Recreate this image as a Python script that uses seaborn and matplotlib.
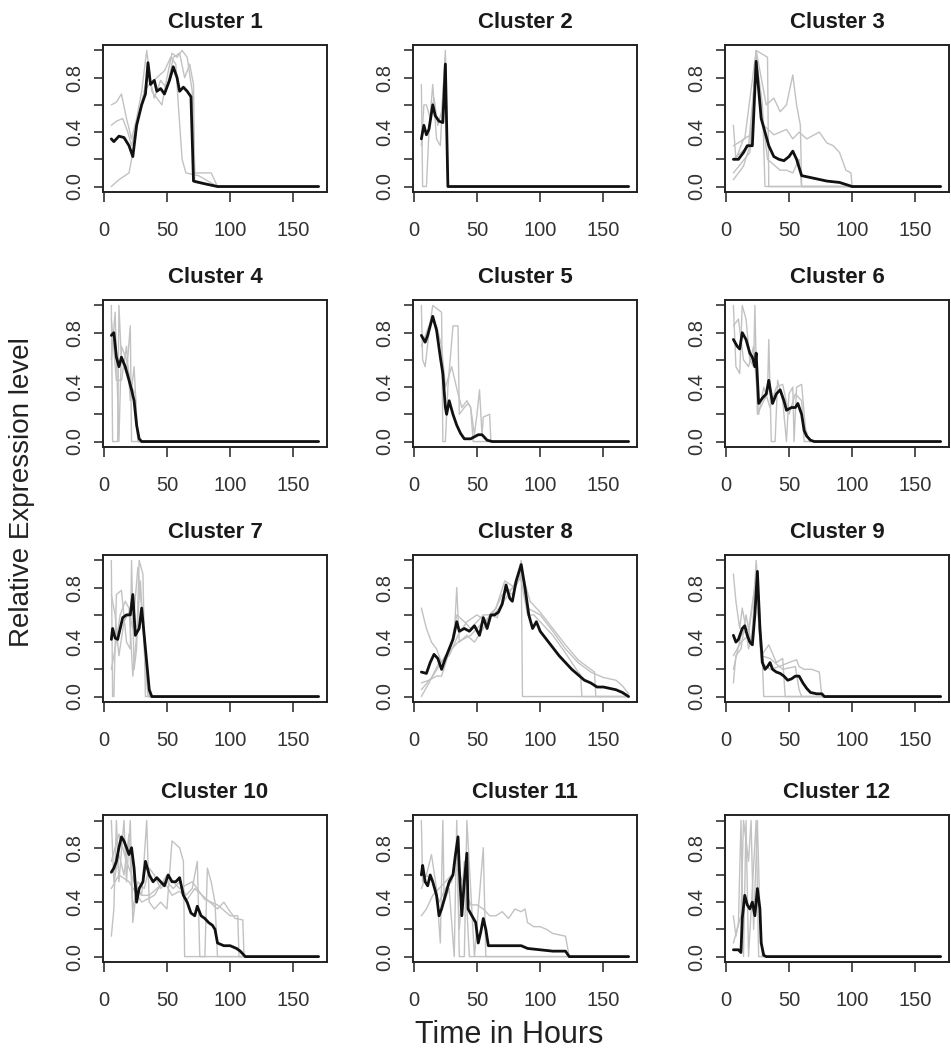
import numpy as np
import pandas as pd
import seaborn as sns
import matplotlib
matplotlib.use("Agg")
import matplotlib.pyplot as plt

# each series: list of (hour, relative level)
c1_mean = [(6, .35), (8, .33), (12, .37), (16, .36), (20, .30), (23, .22), (26, .45), (30, .60), (33, .68),
           (35, .91), (37, .75), (40, .78), (42, .70), (45, .72), (48, .68), (52, .78), (55, .88), (58, .80),
           (60, .70), (63, .73), (66, .70), (69, .66), (71, .04), (80, .02), (90, 0), (170, 0)]
c1_grey1 = [(6, 0), (12, .05), (20, .10), (24, .30), (27, .50), (32, .70), (36, .75), (42, .80), (48, .85),
            (53, .95), (57, .90), (59, .60), (62, .20), (65, .10), (75, .08), (90, 0), (170, 0)]
c1_grey2 = [(6, .60), (10, .62), (14, .68), (18, .50), (22, .35), (26, .50), (30, .70), (34, 1.0), (38, .70),
            (42, .65), (46, .60), (50, .80), (54, .98), (58, .95), (62, 1.0), (66, .95), (70, .70), (72, .10),
            (85, .10), (90, 0), (170, 0)]
c1_grey3 = [(6, .45), (10, .48), (15, .50), (19, .40), (22, .30), (27, .50), (31, .65), (35, .85), (40, .65),
            (45, .78), (50, .72), (55, .95), (60, .98), (64, .80), (68, .90), (71, .75), (72, .03), (90, 0), (170, 0)]

c2_mean = [(6, .35), (8, .45), (10, .38), (12, .42), (15, .60), (17, .52), (20, .48), (23, .47), (25, .90),
           (27, 0), (170, 0)]
c2_grey1 = [(6, .75), (7, 0), (10, 0), (12, .40), (15, .75), (18, .35), (21, .30), (25, 1.0), (27, 0), (170, 0)]
c2_grey2 = [(6, .30), (8, .60), (10, .60), (13, .50), (16, .65), (19, .45), (22, .55), (25, .95), (27, 0), (170, 0)]

c3_mean = [(6, .20), (10, .20), (14, .25), (17, .30), (21, .30), (24, .92), (28, .50), (31, .40), (34, .30),
           (38, .22), (42, .20), (46, .19), (50, .22), (53, .26), (56, .20), (60, .08), (70, .06), (80, .04),
           (90, .03), (100, 0), (170, 0)]
c3_grey1 = [(6, .45), (8, .20), (14, .35), (20, .38), (24, 1.0), (32, .60), (38, .65), (43, .55), (48, .60),
            (53, .82), (56, .60), (59, .45), (60, 0), (170, 0)]
c3_grey2 = [(6, .05), (14, .15), (19, .30), (24, .95), (29, .60), (31, 0), (170, 0)]
c3_grey3 = [(6, .20), (18, .30), (24, .90), (30, .45), (38, .38), (48, .42), (53, .35), (58, .40), (64, .35),
            (70, .38), (74, .40), (80, .32), (85, .30), (90, .25), (95, .12), (99, .10), (100, 0), (170, 0)]
c3_grey4 = [(6, .10), (19, .25), (24, .90), (33, .20), (43, .12), (48, .12), (53, .10), (58, .20), (60, 0), (170, 0)]
c3_grey5 = [(6, .30), (15, .35), (24, 1.0), (33, .95), (34, 0), (170, 0)]

c4_mean = [(6, .78), (8, .80), (10, .62), (12, .55), (14, .62), (17, .55), (20, .45), (22, .38), (24, .30),
           (26, .12), (28, .02), (30, 0), (170, 0)]
c4_grey1 = [(6, 1.0), (7, 0), (11, 0), (12, 1.0), (14, .60), (18, .50), (21, .85), (22, 0), (170, 0)]
c4_grey2 = [(6, .60), (9, .95), (12, 0), (14, .70), (18, .60), (22, .40), (25, .35), (27, 0), (170, 0)]
c4_grey3 = [(6, .90), (10, .45), (14, .45), (18, .70), (21, .30), (24, .55), (27, 0), (170, 0)]

c5_mean = [(6, .78), (9, .73), (11, .78), (15, .92), (18, .82), (21, .62), (23, .50), (25, .25), (26, .20),
           (28, .30), (31, .20), (34, .12), (37, .06), (40, .02), (45, .02), (51, .05), (54, .05), (58, .01),
           (62, 0), (170, 0)]
c5_grey1 = [(6, 1.0), (7, .60), (9, .55), (12, .80), (15, 1.0), (22, .95), (23, 0), (25, 0), (27, .40),
            (31, .85), (35, .85), (36, .20), (40, .25), (43, .28), (45, .25), (47, 0), (170, 0)]
c5_grey2 = [(6, .70), (10, .80), (14, .90), (18, .85), (22, .70), (25, .40), (30, .55), (35, .35), (38, .25),
            (42, .30), (45, .25), (48, .05), (50, .20), (52, .38), (54, .05), (55, .18), (60, .20), (61, 0), (170, 0)]

c6_mean = [(6, .75), (9, .70), (11, .68), (13, .80), (16, .75), (19, .65), (21, .62), (23, .55), (24, .65),
           (26, .28), (29, .32), (32, .35), (34, .45), (37, .28), (40, .35), (43, .38), (46, .30), (48, .23),
           (52, .25), (55, .25), (57, .28), (60, .20), (62, .08), (64, .04), (67, .01), (70, 0), (170, 0)]
c6_grey1 = [(6, 1.0), (8, .55), (11, .50), (13, 1.0), (16, .90), (19, .60), (22, .55), (23, 1.0), (25, .20),
            (30, .30), (33, .35), (34, .75), (36, 0), (39, 0), (41, .45), (45, .30), (48, 0), (50, .35),
            (53, .40), (54, 0), (56, .40), (60, .42), (63, .10), (66, 0), (170, 0)]
c6_grey2 = [(6, .85), (10, .90), (14, .60), (18, .55), (22, .70), (26, .20), (30, .40), (35, .25), (40, .40),
            (45, .42), (50, .20), (55, .35), (60, .30), (62, 0), (170, 0)]

c7_mean = [(6, .42), (7, .50), (9, .43), (11, .42), (13, .50), (15, .58), (18, .60), (21, .60), (23, .75),
           (25, .45), (28, .50), (30, .65), (32, .45), (34, .25), (36, .05), (38, 0), (170, 0)]
c7_grey1 = [(6, 1.0), (7, 0), (8, 0), (10, .75), (14, .78), (18, .40), (21, .35), (22, 1.0), (24, .20),
            (26, .35), (28, 1.0), (31, .90), (33, 0), (170, 0)]
c7_grey2 = [(6, .20), (9, .35), (13, .60), (17, .70), (20, .65), (23, .15), (26, .45), (29, .85), (32, .35),
            (35, 0), (170, 0)]
c7_grey3 = [(6, .75), (9, .60), (12, .30), (16, .55), (20, .62), (23, .50), (27, .95), (31, .55), (34, .20),
            (36, 0), (170, 0)]

c8_mean = [(6, .18), (10, .17), (13, .25), (16, .31), (19, .28), (22, .20), (25, .28), (28, .35), (31, .42),
           (34, .55), (36, .48), (40, .50), (44, .48), (48, .52), (52, .45), (55, .58), (58, .50), (61, .60),
           (64, .60), (67, .62), (70, .68), (73, .82), (76, .72), (78, .70), (81, .85), (85, .97), (88, .80),
           (91, .60), (94, .50), (97, .55), (100, .48), (105, .42), (110, .36), (115, .30), (120, .25),
           (125, .20), (130, .16), (135, .12), (140, .10), (145, .07), (150, .07), (155, .06), (160, .05),
           (165, .03), (170, 0)]
c8_grey1 = [(6, .65), (10, .50), (14, .40), (18, .35), (22, .25), (26, .30), (30, .40), (34, .60), (40, .55),
            (45, .50), (50, .55), (55, .60), (60, .60), (65, .65), (70, .75), (75, .78), (80, .80), (85, 1.0),
            (86, 0), (170, 0)]
c8_grey2 = [(6, .10), (12, .12), (18, .15), (22, .15), (27, .30), (32, .45), (34, .80), (36, .40), (42, .45),
            (48, .40), (55, .50), (60, .60), (66, .58), (72, .78), (78, .75), (84, .90), (90, .60), (95, .60),
            (100, .55), (110, .45), (120, .32), (130, .18), (132, .16), (133, 0), (170, 0)]
c8_grey3 = [(6, 0), (12, .10), (20, .25), (28, .30), (35, .45), (42, .55), (50, .60), (58, .55), (65, .65),
            (72, .85), (80, .80), (86, .90), (92, .70), (100, .62), (110, .50), (120, .38), (130, .27),
            (140, .20), (143, .18), (144, 0), (170, 0)]
c8_grey4 = [(6, .05), (15, .15), (25, .30), (35, .40), (45, .45), (55, .55), (65, .62), (75, .75), (85, .92),
            (90, .65), (100, .60), (110, .48), (120, .35), (130, .25), (140, .18), (150, .14), (160, .12),
            (165, .08), (170, .02)]

c9_mean = [(6, .45), (8, .40), (10, .42), (13, .50), (15, .52), (17, .45), (19, .40), (21, .38), (23, .60),
           (25, .92), (27, .50), (29, .25), (31, .20), (33, .22), (35, .25), (37, .20), (40, .18), (43, .17),
           (46, .15), (49, .12), (52, .13), (55, .15), (58, .15), (61, .10), (64, .06), (67, .03), (72, .02),
           (76, .02), (78, 0), (170, 0)]
c9_grey1 = [(6, .90), (8, .70), (11, .50), (13, .65), (15, .55), (18, .35), (21, .45), (24, 1.0), (27, .60),
            (29, .25), (30, 0), (170, 0)]
c9_grey2 = [(6, .10), (8, .30), (12, .35), (16, .60), (20, .40), (24, .80), (28, .30), (34, .38), (40, .25),
            (45, .28), (47, 0), (170, 0)]
c9_grey3 = [(6, .30), (12, .40), (18, .45), (24, .90), (28, .25), (35, .20), (42, .22), (50, .25), (56, .27),
            (58, .22), (62, .20), (68, .20), (74, .18), (76, 0), (170, 0)]
c9_grey4 = [(6, .20), (12, .45), (18, .50), (24, .85), (28, .30), (35, .28), (45, .20), (55, .22), (58, .05),
            (60, 0), (170, 0)]

c10_mean = [(6, .62), (8, .65), (10, .70), (12, .80), (14, .88), (16, .85), (18, .80), (20, .75), (22, .80),
            (24, .65), (26, .40), (28, .50), (31, .55), (33, .70), (36, .60), (39, .55), (42, .58), (45, .55),
            (48, .52), (51, .60), (54, .55), (57, .55), (60, .58), (63, .45), (66, .40), (69, .32), (72, .30),
            (74, .37), (77, .30), (80, .28), (83, .25), (86, .23), (88, .20), (90, .10), (95, .08), (100, .08),
            (105, .06), (108, .04), (112, 0), (170, 0)]
c10_grey1 = [(6, .15), (8, .35), (10, 1.0), (12, .55), (16, 1.0), (18, .55), (21, 1.0), (23, .25), (26, .50),
             (30, .45), (34, 1.0), (36, .40), (40, .35), (45, .40), (50, .35), (54, .85), (60, .80), (63, .70),
             (64, 0), (170, 0)]
c10_grey2 = [(6, 1.0), (8, .55), (12, .75), (16, .60), (20, .90), (23, .35), (27, .55), (32, .50), (36, .65),
             (40, .60), (45, .50), (50, .55), (55, .50), (60, .55), (65, .45), (70, .50), (74, .70), (76, 0),
             (80, 0), (82, .65), (85, .55), (88, .40), (90, 0), (170, 0)]
c10_grey3 = [(6, .70), (12, .90), (18, .70), (24, .55), (30, .45), (36, .45), (42, .50), (48, .55), (54, .45),
             (60, .48), (66, .42), (72, .50), (78, .45), (84, .40), (90, .35), (95, .40), (100, .33),
             (104, .28), (110, .27), (111, 0), (170, 0)]
c10_grey4 = [(6, .50), (12, .60), (20, .55), (30, .40), (40, .45), (50, .60), (60, .50), (70, .55), (80, .42),
             (90, .38), (100, .30), (106, .30), (107, 0), (170, 0)]

c11_mean = [(6, .60), (7, .67), (9, .55), (11, .52), (13, .60), (15, .55), (18, .45), (20, .30), (22, .35),
            (25, .45), (28, .55), (31, .60), (33, .75), (35, .88), (36, .65), (38, .30), (40, .55), (42, .76),
            (43, .35), (46, .30), (49, .25), (51, .10), (53, .18), (55, .28), (57, .20), (59, .08), (65, .08),
            (75, .08), (85, .08), (90, .06), (100, .05), (110, .04), (120, .04), (123, 0), (170, 0)]
c11_grey1 = [(6, .30), (10, .35), (15, .45), (20, .50), (25, .55), (30, .60), (35, .65), (40, .50), (45, .38),
             (50, .38), (55, .35), (60, .30), (65, .30), (70, .33), (75, .28), (80, .35), (85, .33), (88, .35),
             (90, .25), (95, .22), (100, .22), (105, .20), (110, .17), (115, .16), (120, .15), (122, .05),
             (123, 0), (170, 0)]
c11_grey2 = [(6, 1.0), (7, .55), (10, .60), (14, .75), (18, .50), (21, .10), (23, 1.0), (24, .40), (28, .50),
             (32, 0), (34, 1.0), (36, 0), (40, 0), (42, 1.0), (45, .50), (48, 0), (55, .80), (57, 0), (170, 0)]
c11_grey3 = [(6, .50), (10, .60), (15, .55), (20, .40), (25, .50), (30, .55), (34, .80), (36, .20), (40, .70),
             (44, 0), (170, 0)]

c12_mean = [(6, .05), (10, .05), (12, .03), (13, .28), (15, .45), (17, .38), (19, .35), (21, .40), (23, .30),
            (25, .50), (27, .35), (28, .10), (30, .01), (32, 0), (170, 0)]
c12_grey1 = [(6, .30), (8, .15), (10, .25), (12, 1.0), (14, 0), (16, 1.0), (18, 0), (24, 1.0), (26, 0), (170, 0)]
c12_grey2 = [(6, .10), (9, .20), (12, .30), (14, 1.0), (18, .70), (20, 1.0), (22, .20), (25, 1.0), (27, .30),
             (29, 0), (170, 0)]

cluster_names = ["Cluster %d" % i for i in range(1, 13)]
mean_lines = [c1_mean, c2_mean, c3_mean, c4_mean, c5_mean, c6_mean,
              c7_mean, c8_mean, c9_mean, c10_mean, c11_mean, c12_mean]
grey_lines = [[c1_grey1, c1_grey2, c1_grey3], [c2_grey1, c2_grey2],
              [c3_grey1, c3_grey2, c3_grey3, c3_grey4, c3_grey5], [c4_grey1, c4_grey2, c4_grey3],
              [c5_grey1, c5_grey2], [c6_grey1, c6_grey2], [c7_grey1, c7_grey2, c7_grey3],
              [c8_grey1, c8_grey2, c8_grey3, c8_grey4], [c9_grey1, c9_grey2, c9_grey3, c9_grey4],
              [c10_grey1, c10_grey2, c10_grey3, c10_grey4], [c11_grey1, c11_grey2, c11_grey3],
              [c12_grey1, c12_grey2]]

x_ticks = [0, 50, 100, 150]
y_ticks = [0, 0.2, 0.4, 0.6, 0.8, 1.0]
y_ticklabels = ["0.0", "", "0.4", "", "0.8", ""]


def to_frame(series_list):
    rows = []
    for k, s in enumerate(series_list):
        for order, (h, v) in enumerate(s):
            rows.append({"series": k, "order": order, "hour": h, "level": v})
    return pd.DataFrame(rows)


sns.set_theme(style="ticks")
plt.rcParams["font.family"] = ["Liberation Sans", "DejaVu Sans"]

fig = plt.figure(figsize=(9.51, 10.49), dpi=100)
lefts = [0.1083, 0.4343, 0.7624]
bottoms = [0.8170, 0.5739, 0.3308, 0.0829]
w, h = 0.2355, 0.1401

for i in range(12):
    r, c = divmod(i, 3)
    ax = fig.add_axes([lefts[c], bottoms[r], w, h])

    grey_df = to_frame(grey_lines[i])
    sns.lineplot(data=grey_df, x="hour", y="level", units="series", estimator=None, sort=False,
                 color="#c2c2c2", linewidth=1.0, ax=ax)
    mean_df = to_frame([mean_lines[i]])
    sns.lineplot(data=mean_df, x="hour", y="level", estimator=None, sort=False,
                 color="#111111", linewidth=2.0, ax=ax)

    ax.set_xlim(-0.6, 176.6)
    ax.set_ylim(-0.04, 1.04)
    ax.set_xticks(x_ticks)
    ax.set_yticks(y_ticks)
    ax.set_yticklabels(y_ticklabels)
    ax.set_xlabel("")
    ax.set_ylabel("")
    ax.set_title(cluster_names[i], fontsize=16, fontweight="bold", pad=12, color="#1a1a1a")
    ax.tick_params(axis="x", length=7, width=1.2, pad=14, labelsize=14.5, colors="#333333")
    ax.tick_params(axis="y", length=6.5, width=1.2, pad=7, labelsize=14.5, colors="#333333",
                   labelrotation=90)
    for lab in ax.get_yticklabels():
        lab.set_va("center")
    for sp in ax.spines.values():
        sp.set_linewidth(1.4)
        sp.set_color("#222222")
        sp.set_visible(True)

fig.text(0.023, 0.531, "Relative Expression level", rotation=90, ha="center", va="center",
         fontsize=20, color="#222222")
fig.text(0.535, 0.0135, "Time in Hours", ha="center", va="center", fontsize=22, color="#222222")

fig.savefig("out.png", dpi=100)
